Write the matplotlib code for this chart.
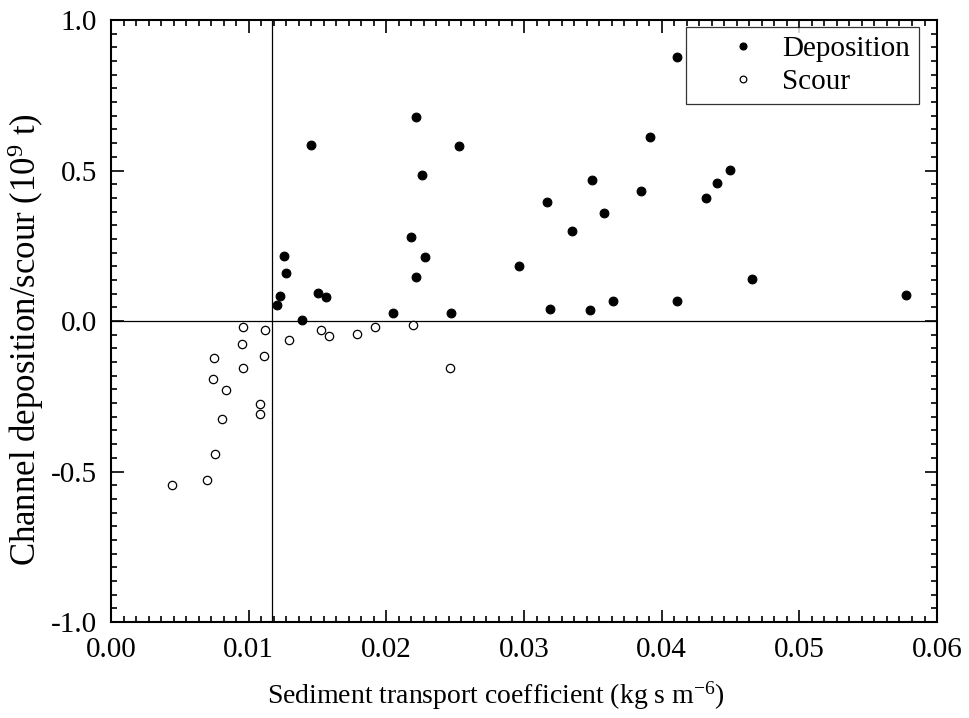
import matplotlib
matplotlib.use("Agg")
import matplotlib.pyplot as plt
from matplotlib.ticker import AutoMinorLocator, FormatStrFormatter

plt.rcParams["font.family"] = ["Liberation Serif", "DejaVu Serif"]
plt.rcParams["mathtext.fontset"] = "custom"
plt.rcParams["mathtext.rm"] = "Liberation Serif"
plt.rcParams["mathtext.it"] = "Liberation Serif:italic"

# Sediment transport coefficient (kg s m^-6) vs channel deposition (10^9 t)
dep_x = [0.01451, 0.01259, 0.01269, 0.01230, 0.01206, 0.01390, 0.01506, 0.01560,
         0.02048, 0.02213, 0.02526, 0.02257, 0.02179, 0.02281, 0.02218, 0.02470,
         0.02964, 0.03167, 0.03189, 0.03349, 0.03492, 0.03581, 0.03479, 0.03649,
         0.03850, 0.03913, 0.04114, 0.04114, 0.04324, 0.04402, 0.04496, 0.04654,
         0.05777]
dep_y = [0.585, 0.216, 0.158, 0.084, 0.052, 0.003, 0.094, 0.079,
         0.028, 0.677, 0.581, 0.486, 0.280, 0.214, 0.147, 0.028,
         0.183, 0.395, 0.039, 0.299, 0.467, 0.359, 0.038, 0.066,
         0.433, 0.610, 0.876, 0.066, 0.409, 0.457, 0.501, 0.140,
         0.087]

# Sediment transport coefficient vs channel scour (negative deposition)
scour_x = [0.00961, 0.01119, 0.00952, 0.01295, 0.01523, 0.01584, 0.01785, 0.01920,
           0.00750, 0.01111, 0.00961, 0.00741, 0.00833, 0.01082, 0.01085, 0.00806,
           0.00758, 0.00695, 0.00441, 0.02196, 0.02462]
scour_y = [-0.019, -0.031, -0.075, -0.064, -0.029, -0.051, -0.044, -0.021,
           -0.122, -0.117, -0.157, -0.193, -0.230, -0.277, -0.310, -0.325,
           -0.442, -0.527, -0.546, -0.014, -0.157]

# Threshold coefficient separating scour from deposition
threshold_x = 0.01172

x_ticks = [0.00, 0.01, 0.02, 0.03, 0.04, 0.05, 0.06]
y_ticks = [-1.0, -0.5, 0.0, 0.5, 1.0]

fig = plt.figure(figsize=(9.69, 7.18), dpi=100)
ax = fig.add_axes([0.1146, 0.1337, 0.8524, 0.8384])

ax.axhline(0.0, color="black", lw=0.9, zorder=1)
ax.axvline(threshold_x, color="black", lw=0.9, zorder=1)

ax.plot(dep_x, dep_y, linestyle="none", marker="o", ms=6.3, mfc="black",
        mec="black", mew=0.8, label="Deposition", zorder=3)
ax.plot(scour_x, scour_y, linestyle="none", marker="o", ms=6.0, mfc="white",
        mec="black", mew=0.9, label="Scour", zorder=3)

ax.set_xlim(0.0, 0.06)
ax.set_ylim(-1.0, 1.0)
ax.set_xticks(x_ticks)
ax.set_yticks(y_ticks)
ax.xaxis.set_major_formatter(FormatStrFormatter("%.2f"))
ax.yaxis.set_major_formatter(FormatStrFormatter("%.1f"))
ax.xaxis.set_minor_locator(AutoMinorLocator(11))
ax.yaxis.set_minor_locator(AutoMinorLocator(11))

ax.tick_params(which="both", direction="in", top=True, right=True,
               labelsize=21, width=1.2)
ax.tick_params(which="major", length=9)
ax.tick_params(which="minor", length=4.5)
ax.tick_params(axis="x", which="major", pad=11)
ax.tick_params(axis="y", which="major", pad=10)
for side in ax.spines.values():
    side.set_linewidth(1.5)

ax.set_xlabel("Sediment transport coefficient (kg s m$^{\\mathregular{-6}}$)",
              fontsize=20)
ax.xaxis.set_label_coords(0.466, -0.095)
ax.set_ylabel("Channel deposition/scour (10$^{\\mathregular{9}}$ t)",
              fontsize=25)
ax.yaxis.set_label_coords(-0.079, 0.47)

leg = ax.legend(loc="upper right", fontsize=21, frameon=True, fancybox=False,
                edgecolor="black", handletextpad=-0.3, borderpad=0.3,
                labelspacing=0.22, markerscale=0.8, borderaxespad=0.0,
                bbox_to_anchor=(0.978, 0.988), handlelength=3.3)
leg.get_frame().set_linewidth(0.9)

fig.savefig("out.png", dpi=100)
